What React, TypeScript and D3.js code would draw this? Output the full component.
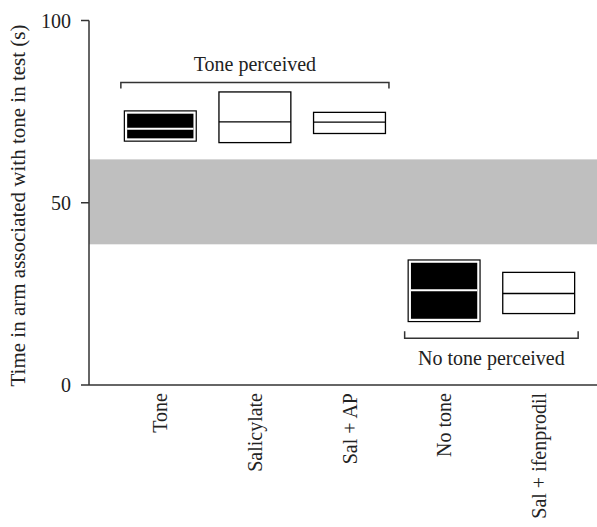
import React from "react";
import * as d3 from "d3";

const categories = ["Tone", "Salicylate", "Sal + AP", "No tone", "Sal + ifenprodil"];
const boxLow = [66.9, 66.5, 69.0, 17.4, 19.6];
const boxHigh = [75.2, 80.4, 74.8, 34.3, 30.9];
const boxMedian = [70.3, 72.2, 72.1, 26.0, 25.1];
const boxFilled = [true, false, false, true, false];
const chanceBand = [38.6, 61.9];
const yTicks = [0, 50, 100];
const groups = [
  { label: "Tone perceived", from: 0, to: 2, side: "top", value: 83 },
  { label: "No tone perceived", from: 3, to: 4, side: "bottom", value: 12.8 },
];

const W = 597;
const H = 527;
const FONT = "'Liberation Serif', 'DejaVu Serif', serif";
const AXIS = "#333";

export default function App() {
  const y = d3.scaleLinear().domain([0, 100]).range([385, 20.5]);
  const x = d3
    .scaleBand<string>()
    .domain(categories)
    .range([113, 586])
    .paddingInner(0.24)
    .paddingOuter(0.12);
  const x0 = 89;
  const bw = x.bandwidth();

  return (
    <svg width={W} height={H} style={{ position: "absolute", left: 0, top: 0 }} fontFamily={FONT}>
      <rect x={0} y={0} width={W} height={H} fill="#fff" />
      {/* chance band */}
      <rect
        x={x0}
        y={y(chanceBand[1])}
        width={W - x0}
        height={y(chanceBand[0]) - y(chanceBand[1])}
        fill="#bfbfbf"
      />
      {/* boxes */}
      {categories.map((c, i) => {
        const left = x(c)!;
        const top = y(boxHigh[i]);
        const bot = y(boxLow[i]);
        const med = y(boxMedian[i]);
        if (boxFilled[i]) {
          const ins = 2.8;
          return (
            <g key={c}>
              <rect x={left} y={top} width={bw} height={bot - top} fill="#fff" stroke="#000" strokeWidth={1.2} />
              <rect x={left + ins} y={top + ins} width={bw - 2 * ins} height={bot - top - 2 * ins} fill="#000" />
              <line x1={left + ins} x2={left + bw - ins} y1={med} y2={med} stroke="#fff" strokeWidth={2.2} />
            </g>
          );
        }
        return (
          <g key={c}>
            <rect x={left} y={top} width={bw} height={bot - top} fill="#fff" stroke="#000" strokeWidth={1.3} />
            <line x1={left} x2={left + bw} y1={med} y2={med} stroke="#000" strokeWidth={1.3} />
          </g>
        );
      })}
      {/* axes */}
      <line x1={x0} x2={x0} y1={y(100)} y2={y(0)} stroke={AXIS} strokeWidth={1.5} />
      <line x1={x0} x2={W} y1={y(0)} y2={y(0)} stroke={AXIS} strokeWidth={1.5} />
      {yTicks.map((t) => (
        <g key={t}>
          <line x1={x0 - 8} x2={x0} y1={y(t)} y2={y(t)} stroke={AXIS} strokeWidth={1.5} />
          <text x={71} y={y(t)} dy="0.35em" textAnchor="end" fontSize={20} fill="#222">
            {t}
          </text>
        </g>
      ))}
      {categories.map((c) => (
        <text
          key={c}
          transform={`translate(${x(c)! + bw / 2},393) rotate(-90)`}
          dy="0.35em"
          textAnchor="end"
          fontSize={20}
          fill="#222"
        >
          {c}
        </text>
      ))}
      <text
        transform={`translate(25,205.5) rotate(-90)`}
        textAnchor="middle"
        fontSize={21}
        fill="#222"
      >
        Time in arm associated with tone in test (s)
      </text>
      {/* group brackets */}
      {groups.map((g) => {
        const l = x(categories[g.from])! - 3.5;
        const r = x(categories[g.to])! + bw + 3.5;
        const yy = y(g.value);
        const tickDir = g.side === "top" ? 6 : -7;
        const ty = g.side === "top" ? yy - 11.5 : yy + 27;
        return (
          <g key={g.label}>
            <path
              d={`M${l},${yy + tickDir}V${yy}H${r}V${yy + tickDir}`}
              fill="none"
              stroke={AXIS}
              strokeWidth={1.5}
            />
            <text x={(l + r) / 2} y={ty} textAnchor="middle" fontSize={20} fill="#222">
              {g.label}
            </text>
          </g>
        );
      })}
    </svg>
  );
}
